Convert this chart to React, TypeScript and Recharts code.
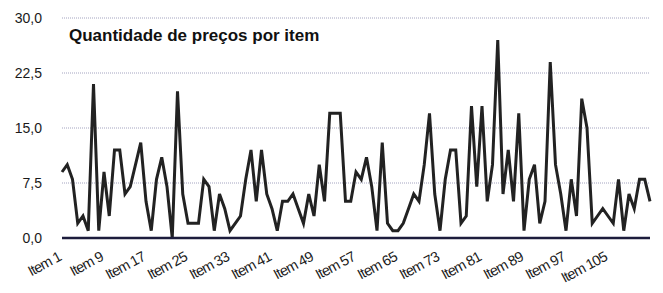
import React from 'react';
import { LineChart, Line, XAxis, YAxis, CartesianGrid } from 'recharts';

// quantity of prices for each item
const counts = [
  9, 10, 8, 2, 3, 1, 21, 1, 9, 3,
  12, 12, 6, 7, 10, 13, 5, 1, 8, 11,
  7, 0, 20, 6, 2, 2, 2, 8, 7, 1,
  6, 4, 1, 2, 3, 8, 12, 5, 12, 6,
  4, 1, 5, 5, 6, 4, 2, 6, 3, 10,
  5, 17, 17, 17, 5, 5, 9, 8, 11, 7,
  1, 13, 2, 1, 1, 2, 4, 6, 5, 10,
  17, 6, 1, 8, 12, 12, 2, 3, 18, 7,
  18, 5, 10, 27, 6, 12, 5, 17, 1, 8,
  10, 2, 5, 24, 10, 6, 1, 8, 3, 19,
  15, 2, 3, 4, 3, 2, 8, 1, 6, 4,
  8, 8, 5,
];

const items = counts.map((_, i) => `Item ${i + 1}`);

const shownLabels = [
  'Item 1', 'Item 9', 'Item 17', 'Item 25', 'Item 33', 'Item 41', 'Item 49',
  'Item 57', 'Item 65', 'Item 73', 'Item 81', 'Item 89', 'Item 97', 'Item 105',
];

const yTicks = [0, 7.5, 15, 22.5, 30];

const data = items.map((item, i) => ({ item, qtd: counts[i] }));

const FONT = 'Arial, "Liberation Sans", sans-serif';

const ItemTick = (props: any) => {
  const { x, y, payload } = props;
  if (!shownLabels.includes(payload.value)) return <g />;
  return (
    <g transform={`translate(${x},${y + 14})`}>
      <text
        transform="rotate(-28)"
        textAnchor="end"
        fontSize={14.5}
        fontFamily={FONT}
        fill="#1a1a1a"
        letterSpacing={-0.9}
      >
        {payload.value}
      </text>
    </g>
  );
};

const App = () => {
  return (
    <div style={{ position: 'absolute', left: 0, top: 0, width: 663, height: 293, background: '#fff' }}>
      <LineChart width={663} height={293} data={data} margin={{ top: 18, right: 13, left: 0, bottom: 0 }}>
        <CartesianGrid vertical={false} stroke="#a4a4c0" strokeDasharray="1 1" />
        <XAxis
          dataKey="item"
          interval={0}
          tick={<ItemTick />}
          tickLine={false}
          axisLine={{ stroke: '#1c1c3c', strokeWidth: 2.5 }}
          height={55}
        />
        <YAxis
          domain={[0, 30]}
          ticks={yTicks}
          width={62}
          axisLine={false}
          tickLine={false}
          tickMargin={14}
          tickFormatter={(v: number) => v.toFixed(1).replace('.', ',')}
          tick={{ fontSize: 14, fill: '#1a1a1a', fontFamily: FONT }}
        />
        <Line
          type="linear"
          dataKey="qtd"
          stroke="#222"
          strokeWidth={3}
          dot={false}
          isAnimationActive={false}
        />
      </LineChart>
      <div
        style={{
          position: 'absolute',
          left: 69,
          top: 26,
          fontFamily: FONT,
          fontWeight: 'bold',
          fontSize: 17,
          color: '#111',
          whiteSpace: 'nowrap',
        }}
      >
        Quantidade de preços por item
      </div>
    </div>
  );
};

export default App;
